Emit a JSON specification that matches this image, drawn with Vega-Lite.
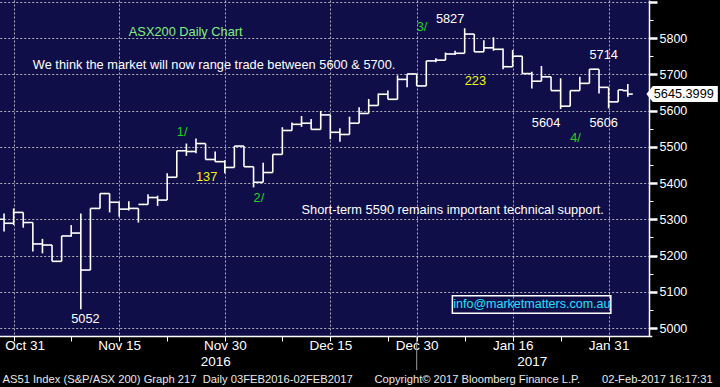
{
  "$schema": "https://vega.github.io/schema/vega-lite/v6.json",
  "width": 649,
  "height": 336,
  "autosize": {"type": "none"},
  "padding": {"left": 0, "top": 0, "right": 71, "bottom": 51},
  "background": "#000000",
  "config": {
    "font": "Liberation Sans",
    "view": {"fill": "#100e48", "stroke": null},
    "axis": {"labelOverlap": false, "labelSeparation": 0}
  },
  "data": {"values": [
    {"d":"2016-10-28","o":5300,"h":5316,"l":5266,"c":5289},
    {"d":"2016-10-31","o":5289,"h":5330,"l":5284,"c":5319},
    {"d":"2016-11-01","o":5319,"h":5319,"l":5277,"c":5291},
    {"d":"2016-11-02","o":5291,"h":5291,"l":5211,"c":5232},
    {"d":"2016-11-03","o":5232,"h":5246,"l":5206,"c":5229},
    {"d":"2016-11-04","o":5229,"h":5229,"l":5184,"c":5184},
    {"d":"2016-11-07","o":5184,"h":5254,"l":5184,"c":5254},
    {"d":"2016-11-08","o":5254,"h":5284,"l":5252,"c":5262},
    {"d":"2016-11-09","o":5262,"h":5316,"l":5052,"c":5160},
    {"d":"2016-11-10","o":5160,"h":5330,"l":5160,"c":5330},
    {"d":"2016-11-11","o":5330,"h":5371,"l":5330,"c":5371},
    {"d":"2016-11-14","o":5371,"h":5371,"l":5319,"c":5347},
    {"d":"2016-11-15","o":5347,"h":5347,"l":5307,"c":5328},
    {"d":"2016-11-16","o":5328,"h":5350,"l":5324,"c":5330},
    {"d":"2016-11-17","o":5330,"h":5330,"l":5291,"c":5341},
    {"d":"2016-11-18","o":5341,"h":5369,"l":5341,"c":5360},
    {"d":"2016-11-21","o":5360,"h":5365,"l":5337,"c":5353},
    {"d":"2016-11-22","o":5353,"h":5427,"l":5353,"c":5416},
    {"d":"2016-11-23","o":5416,"h":5489,"l":5416,"c":5489},
    {"d":"2016-11-24","o":5489,"h":5509,"l":5475,"c":5487},
    {"d":"2016-11-25","o":5487,"h":5523,"l":5482,"c":5509},
    {"d":"2016-11-28","o":5509,"h":5509,"l":5465,"c":5465},
    {"d":"2016-11-29","o":5465,"h":5487,"l":5459,"c":5459},
    {"d":"2016-11-30","o":5459,"h":5463,"l":5427,"c":5443},
    {"d":"2016-12-01","o":5443,"h":5502,"l":5443,"c":5502},
    {"d":"2016-12-02","o":5502,"h":5502,"l":5445,"c":5445},
    {"d":"2016-12-05","o":5445,"h":5445,"l":5388,"c":5402},
    {"d":"2016-12-06","o":5402,"h":5456,"l":5402,"c":5429},
    {"d":"2016-12-07","o":5429,"h":5479,"l":5429,"c":5479},
    {"d":"2016-12-08","o":5479,"h":5554,"l":5479,"c":5545},
    {"d":"2016-12-09","o":5545,"h":5567,"l":5545,"c":5562},
    {"d":"2016-12-12","o":5562,"h":5585,"l":5555,"c":5565},
    {"d":"2016-12-13","o":5565,"h":5577,"l":5548,"c":5548},
    {"d":"2016-12-14","o":5548,"h":5599,"l":5548,"c":5588},
    {"d":"2016-12-15","o":5588,"h":5588,"l":5521,"c":5540},
    {"d":"2016-12-16","o":5540,"h":5551,"l":5514,"c":5534},
    {"d":"2016-12-19","o":5534,"h":5583,"l":5534,"c":5565},
    {"d":"2016-12-20","o":5565,"h":5609,"l":5565,"c":5592},
    {"d":"2016-12-21","o":5592,"h":5632,"l":5592,"c":5614},
    {"d":"2016-12-22","o":5614,"h":5647,"l":5614,"c":5645},
    {"d":"2016-12-23","o":5645,"h":5655,"l":5631,"c":5631},
    {"d":"2016-12-28","o":5631,"h":5697,"l":5631,"c":5686},
    {"d":"2016-12-29","o":5686,"h":5701,"l":5664,"c":5701},
    {"d":"2016-12-30","o":5701,"h":5701,"l":5668,"c":5668},
    {"d":"2017-01-03","o":5668,"h":5737,"l":5668,"c":5737},
    {"d":"2017-01-04","o":5737,"h":5744,"l":5733,"c":5739},
    {"d":"2017-01-05","o":5739,"h":5760,"l":5739,"c":5756},
    {"d":"2017-01-06","o":5756,"h":5765,"l":5753,"c":5758},
    {"d":"2017-01-09","o":5758,"h":5827,"l":5758,"c":5811},
    {"d":"2017-01-10","o":5811,"h":5811,"l":5762,"c":5762},
    {"d":"2017-01-11","o":5762,"h":5794,"l":5762,"c":5773},
    {"d":"2017-01-12","o":5773,"h":5802,"l":5765,"c":5769},
    {"d":"2017-01-13","o":5769,"h":5771,"l":5714,"c":5721},
    {"d":"2017-01-16","o":5721,"h":5767,"l":5721,"c":5750},
    {"d":"2017-01-17","o":5750,"h":5750,"l":5701,"c":5702},
    {"d":"2017-01-18","o":5702,"h":5707,"l":5661,"c":5681},
    {"d":"2017-01-19","o":5681,"h":5723,"l":5681,"c":5693},
    {"d":"2017-01-20","o":5693,"h":5693,"l":5655,"c":5655},
    {"d":"2017-01-23","o":5655,"h":5689,"l":5604,"c":5612},
    {"d":"2017-01-24","o":5612,"h":5655,"l":5612,"c":5655},
    {"d":"2017-01-25","o":5655,"h":5693,"l":5655,"c":5675},
    {"d":"2017-01-27","o":5675,"h":5714,"l":5675,"c":5714},
    {"d":"2017-01-30","o":5714,"h":5714,"l":5647,"c":5664},
    {"d":"2017-01-31","o":5664,"h":5664,"l":5606,"c":5624},
    {"d":"2017-02-01","o":5624,"h":5657,"l":5624,"c":5657},
    {"d":"2017-02-02","o":5655,"h":5673,"l":5638,"c":5645.3999}
  ]},
  "layer": [
    {
      "mark": {"type": "rule", "color": "#ffffff", "strokeWidth": 1.6},
      "encoding": {
        "x": {
          "field": "d", "type": "ordinal",
          "scale": {
            "type": "point",
            "range": [-0.74, 651.8],
            "domain": ["2016-10-28","2016-10-31","2016-11-01","2016-11-02","2016-11-03","2016-11-04","2016-11-07","2016-11-08","2016-11-09","2016-11-10","2016-11-11","2016-11-14","2016-11-15","2016-11-16","2016-11-17","2016-11-18","2016-11-21","2016-11-22","2016-11-23","2016-11-24","2016-11-25","2016-11-28","2016-11-29","2016-11-30","2016-12-01","2016-12-02","2016-12-05","2016-12-06","2016-12-07","2016-12-08","2016-12-09","2016-12-12","2016-12-13","2016-12-14","2016-12-15","2016-12-16","2016-12-19","2016-12-20","2016-12-21","2016-12-22","2016-12-23","2016-12-28","2016-12-29","2016-12-30","2017-01-03","2017-01-04","2017-01-05","2017-01-06","2017-01-09","2017-01-10","2017-01-11","2017-01-12","2017-01-13","2017-01-16","2017-01-17","2017-01-18","2017-01-19","2017-01-20","2017-01-23","2017-01-24","2017-01-25","2017-01-27","2017-01-30","2017-01-31","2017-02-01","2017-02-02","2017-02-03","2017-02-06"]
          },
          "axis": {
            "orient": "bottom",
            "values": ["2016-10-31","2016-11-08","2016-11-15","2016-11-22","2016-11-29","2016-11-30","2016-12-08","2016-12-15","2016-12-23","2016-12-30","2017-01-09","2017-01-16","2017-01-18","2017-01-23","2017-01-31"],
            "labelExpr": "datum.value == '2016-11-29' ? ['', '2016'] : datum.value == '2017-01-18' ? ['', '2017'] : indexof(['2016-10-31','2016-11-15','2016-11-30','2016-12-15','2016-12-30','2017-01-16','2017-01-31'], datum.value) >= 0 ? utcFormat(toDate(datum.value), '%b %d') : ''",
            "labelAngle": 0,
            "labelOverlap": false,
            "labelBound": false,
            "labelAlign": {"condition": {"test": "datum.value == '2016-10-31'", "value": "left"}, "value": "center"},
            "labelOffset": {"condition": {"test": "datum.value == '2016-10-31'", "value": -9}, "value": 0},
            "labelColor": "#ffffff",
            "labelFont": "Liberation Sans",
            "labelFontSize": 13.5,
            "labelPadding": -3,
            "labelLineHeight": 16,
            "domainColor": "#ffffff",
            "domainWidth": 1.5,
            "tickColor": "#ffffff",
            "tickSize": 5,
            "tickWidth": 1,
            "tickOpacity": {"condition": {"test": "datum.value == '2016-11-29' || datum.value == '2017-01-18'", "value": 0}, "value": 1},
            "grid": true,
            "gridColor": "#b0b0b8",
            "gridDash": [2, 2],
            "gridWidth": 1,
            "gridOpacity": {"condition": {"test": "indexof(['2016-10-31','2016-11-15','2016-11-30','2016-12-15','2016-12-30','2017-01-16','2017-01-31'], datum.value) >= 0", "value": 1}, "value": 0},
            "title": "AS51 Index (S&P/ASX 200) Graph 217\u00a0\u00a0Daily 03FEB2016-02FEB2017\u00a0\u00a0\u00a0\u00a0\u00a0\u00a0\u00a0Copyright© 2017 Bloomberg Finance L.P.\u00a0\u00a0\u00a0\u00a0\u00a0\u00a0\u00a002-Feb-2017 16:17:31",
            "titleX": 2,
            "titleY": 43,
            "titleAlign": "left",
            "titleAnchor": "start",
            "titleBaseline": "middle",
            "titleFont": "Liberation Sans",
            "titleFontSize": 11.2,
            "titleFontWeight": "normal",
            "titleColor": "#e8e8e8"
          }
        },
        "y": {
          "field": "l", "type": "quantitative",
          "scale": {"domain": [4978, 5905], "nice": false, "zero": false},
          "axis": {
            "orient": "right",
            "tickCount": 60,
            "values": [5000,5050,5100,5150,5200,5250,5300,5350,5400,5450,5500,5550,5600,5650,5700,5750,5800,5850,5900],
            "labelExpr": "datum.value % 100 == 0 && datum.value < 5900 ? format(datum.value, 'd') : ''",
            "labelColor": "#ffffff",
            "labelFont": "Liberation Sans",
            "labelFontSize": 12.5,
            "labelPadding": 2,
            "labelOverlap": false,
            "labelBound": false,
            "domainColor": "#ffffff",
            "domainWidth": 1.5,
            "tickColor": "#ffffff",
            "tickSize": {"condition": {"test": "datum.value % 100 == 0", "value": 8}, "value": 4},
            "tickWidth": {"condition": {"test": "datum.value % 100 == 0", "value": 2.5}, "value": 1},
            "grid": true,
            "gridColor": "#b0b0b8",
            "gridDash": [2, 2],
            "gridWidth": 1,
            "gridOpacity": {"condition": {"test": "datum.value % 100 == 0", "value": 1}, "value": 0},
            "title": null
          }
        },
        "y2": {"field": "h"}
      }
    },
    {
      "mark": {"type": "tick", "orient": "horizontal", "color": "#ffffff", "opacity": 1, "size": 5, "thickness": 1.6, "xOffset": -2.5},
      "encoding": {
        "x": {"field": "d", "type": "ordinal"},
        "y": {"field": "o", "type": "quantitative"}
      }
    },
    {
      "mark": {"type": "tick", "orient": "horizontal", "color": "#ffffff", "opacity": 1, "size": 5, "thickness": 1.6, "xOffset": 2.5},
      "encoding": {
        "x": {"field": "d", "type": "ordinal"},
        "y": {"field": "c", "type": "quantitative"}
      }
    },
    {
      "data": {"values": [{"d": "2016-12-30", "lo": 4978, "hi": 4884}]},
      "mark": {"type": "rule", "color": "#9a9a9a", "strokeWidth": 1},
      "encoding": {
        "x": {"field": "d", "type": "ordinal"},
        "y": {"field": "lo", "type": "quantitative"},
        "y2": {"field": "hi"}
      }
    },
    {
      "data": {"values": [
        {"d":"2016-11-16","p":5817,"t":"ASX200 Daily Chart","k":"title"},
        {"d":"2016-11-02","p":5725,"t":"We think the market will now range trade between 5600 & 5700.","k":"note"},
        {"d":"2016-12-12","p":5327,"t":"Short-term 5590 remains important technical support.","k":"note"},
        {"d":"2016-11-23","p":5541,"t":"1/","k":"wave"},
        {"d":"2016-11-25","p":5417,"t":"137","k":"count"},
        {"d":"2016-12-05","p":5358,"t":"2/","k":"wave"},
        {"d":"2016-12-30","p":5831,"t":"3/","k":"wave"},
        {"d":"2017-01-04","p":5852,"t":"5827","k":"level"},
        {"d":"2017-01-09","p":5681,"t":"223","k":"count"},
        {"d":"2017-01-27","p":5753,"t":"5714","k":"level"},
        {"d":"2017-01-18","p":5565,"t":"5604","k":"level"},
        {"d":"2017-01-27","p":5567,"t":"5606","k":"level"},
        {"d":"2017-01-24","p":5523,"t":"4/","k":"wave"},
        {"d":"2016-11-08","p":5025,"t":"5052","k":"level"}
      ]},
      "mark": {"type": "text", "align": "left", "baseline": "middle", "font": "Liberation Sans", "fontSize": 12.8},
      "encoding": {
        "x": {"field": "d", "type": "ordinal"},
        "y": {"field": "p", "type": "quantitative"},
        "text": {"field": "t"},
        "color": {
          "field": "k", "type": "nominal", "legend": null,
          "scale": {"domain": ["title","note","wave","count","level"], "range": ["#80f080","#ffffff","#1ed31e","#f5f50a","#ffffff"]}
        }
      }
    },
    {
      "data": {"values": [{"d": "2017-01-18", "p": 5065, "t": "info@marketmatters.com.au"}]},
      "mark": {"type": "point", "shape": "M-79.5,-8.7L79,-8.7L79,8.9L-79.5,8.9Z", "size": 4, "filled": false, "color": "#ffffff", "opacity": 1, "strokeWidth": 1.5},
      "encoding": {
        "x": {"field": "d", "type": "ordinal"},
        "y": {"field": "p", "type": "quantitative"}
      }
    },
    {
      "data": {"values": [{"d": "2017-01-18", "p": 5065, "t": "info@marketmatters.com.au"}]},
      "mark": {"type": "text", "align": "center", "baseline": "middle", "font": "Liberation Sans", "fontSize": 12.5, "color": "#26e0ff"},
      "encoding": {
        "x": {"field": "d", "type": "ordinal"},
        "y": {"field": "p", "type": "quantitative"},
        "text": {"field": "t"}
      }
    },
    {
      "data": {"values": [{"d": "2017-02-02", "c": 5645.3999}]},
      "mark": {"type": "point", "shape": "M18.6,0L25,-8L90,-8L90,8L25,8Z", "size": 4, "filled": true, "color": "#ffffff", "opacity": 1, "strokeWidth": 0},
      "encoding": {
        "x": {"field": "d", "type": "ordinal"},
        "y": {"field": "c", "type": "quantitative"}
      }
    },
    {
      "data": {"values": [{"d": "2017-02-02", "c": 5645.3999}]},
      "mark": {"type": "text", "align": "left", "baseline": "middle", "dx": 26, "font": "Liberation Sans", "fontSize": 12.7, "color": "#000000"},
      "encoding": {
        "x": {"field": "d", "type": "ordinal"},
        "y": {"field": "c", "type": "quantitative"},
        "text": {"field": "c", "type": "quantitative", "format": ".4f"}
      }
    }
  ]
}
